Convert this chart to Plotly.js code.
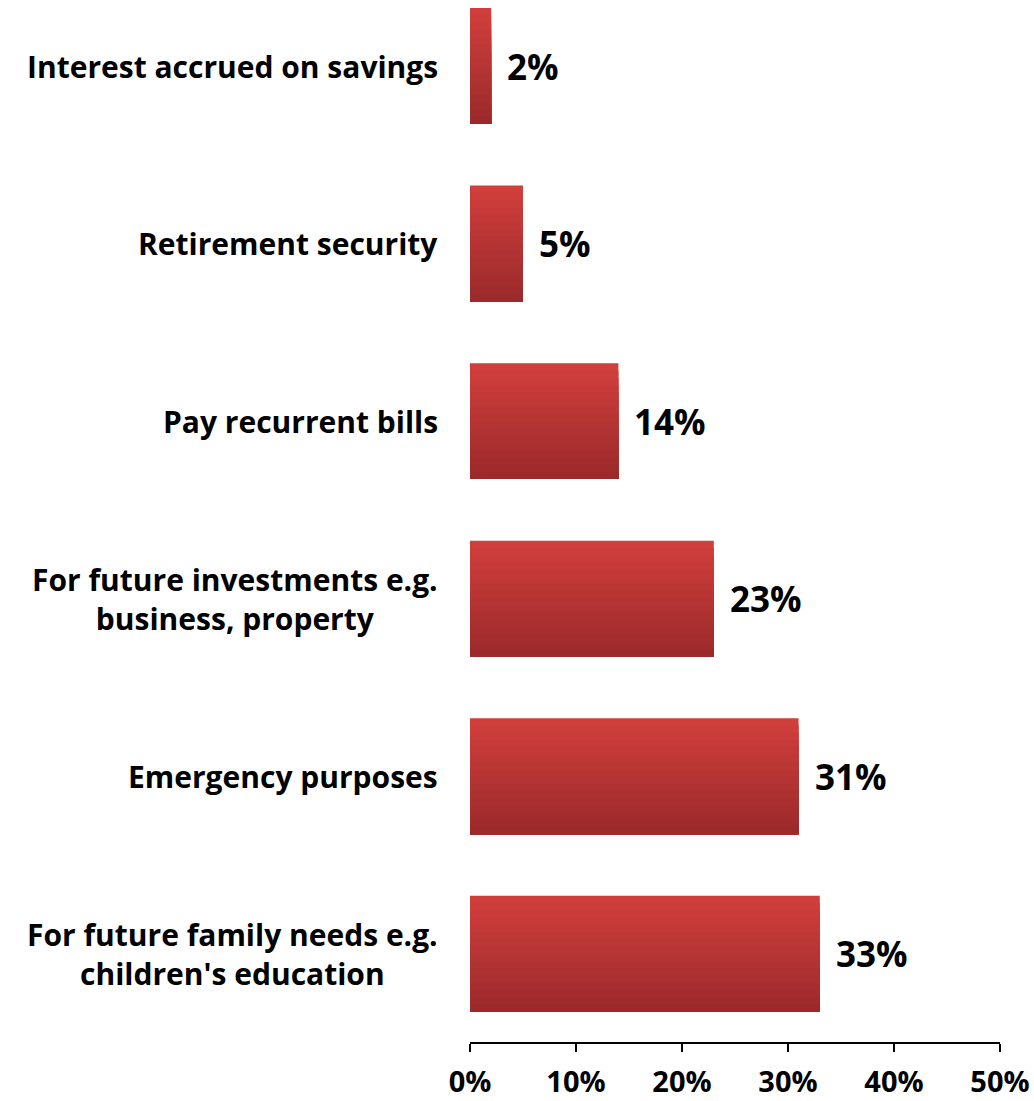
<!DOCTYPE html>
<html>
<head>
<meta charset="utf-8">
<script src="https://cdn.plot.ly/plotly-3.0.1.min.js"></script>
<style>html,body{margin:0;padding:0;background:#fff;}#chart{width:1034px;height:1101px;}</style>
</head>
<body>
<div id="chart"></div>
<script>
// Data (bottom to top)
const categories = [
  "For future family needs e.g.<br>children's education",
  "Emergency purposes",
  "For future investments e.g.<br>business, property",
  "Pay recurrent bills",
  "Retirement security",
  "Interest accrued on savings"
];
const values = [0.33, 0.31, 0.23, 0.14, 0.05, 0.02];
const valueLabels = ["33%", "31%", "23%", "14%", "5%", "2%"];
const xTickVals = [0, 0.1, 0.2, 0.3, 0.4, 0.5];
const xTickText = ["0%", "10%", "20%", "30%", "40%", "50%"];

const FONT = "'Open Sans', Lato, sans-serif";
const barWidth = 0.653;
const nStrips = 16;
const bottomCol = [156, 42, 43];
const topCol = [208, 63, 60];

const yIdx = categories.map((c, i) => i);
const traces = [];
// Overlapping gradient: full bar in top colour first, then progressively shorter
// bars anchored at the bottom edge, each darker.
for (let k = 0; k < nStrips; k++) {
  const t = 1 - k / (nStrips - 1);
  const c = bottomCol.map((b, j) => Math.round(b + (topCol[j] - b) * t));
  const h = barWidth * (nStrips - k) / nStrips;
  traces.push({
    type: 'bar',
    orientation: 'h',
    x: values,
    y: yIdx,
    width: h,
    offset: -barWidth / 2,
    marker: {color: `rgb(${c[0]},${c[1]},${c[2]})`, line: {width: 0}},
    hoverinfo: 'skip',
    showlegend: false
  });
}

const annotations = [];
categories.forEach((c, i) => {
  annotations.push({
    xref: 'paper', yref: 'y', x: 0, y: i,
    xanchor: 'right', yanchor: 'middle', xshift: -30,
    text: c, showarrow: false, align: 'center',
    font: {family: FONT, size: 30, color: '#000', weight: 'bold'}
  });
  annotations.push({
    xref: 'x', yref: 'y', x: values[i], y: i,
    xanchor: 'left', yanchor: 'middle', xshift: 14,
    text: valueLabels[i], showarrow: false,
    font: {family: FONT, size: 35, color: '#000', weight: 'bold'}
  });
});

const layout = {
  width: 1034, height: 1101,
  margin: {l: 470, r: 34, t: 0, b: 59},
  paper_bgcolor: '#fff', plot_bgcolor: '#fff',
  barmode: 'overlay',
  showlegend: false,
  xaxis: {
    range: [0, 0.5], tickvals: xTickVals, ticktext: xTickText,
    showgrid: false, zeroline: false,
    showline: true, linecolor: '#000', linewidth: 2,
    ticks: 'outside', ticklen: 8, tickwidth: 2, tickcolor: '#000',
    ticklabelstandoff: 5,
    tickfont: {family: FONT, size: 29, color: '#000', weight: 'bold'}
  },
  yaxis: {
    range: [-0.497, 5.372],
    showgrid: false, zeroline: false, showline: false,
    showticklabels: false, ticks: ''
  },
  annotations: annotations
};

Plotly.newPlot('chart', traces, layout, {displayModeBar: false, staticPlot: true});
</script>
</body>
</html>
